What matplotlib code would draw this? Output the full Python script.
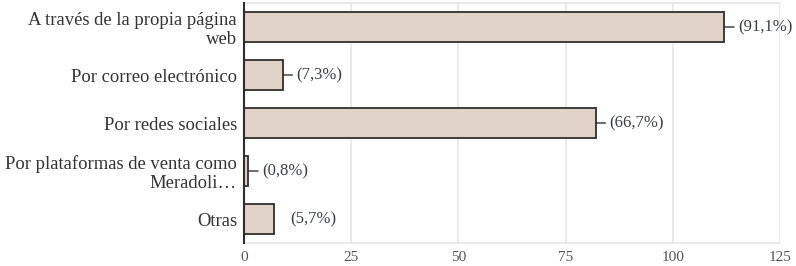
import matplotlib
matplotlib.use("Agg")
import matplotlib.pyplot as plt

categories = ["A través de la propia página\nweb", "Por correo electrónico", "Por redes sociales",
              "Por plataformas de venta como\nMeradoli…", "Otras"]
values = [112, 9, 82, 1, 7]
labels = ["(91,1%)", "(7,3%)", "(66,7%)", "(0,8%)", "(5,7%)"]
show_dash = [True, True, True, True, False]
xticks = [0, 25, 50, 75, 100, 125]

plt.rcParams['font.family'] = ['Liberation Serif', 'DejaVu Serif']

fig = plt.figure(figsize=(7.96, 2.66), dpi=100)
ax = fig.add_axes([244/796, 1-243/266, (780-244)/796, 240/266])

ypos = list(range(len(categories)))
ax.barh(ypos, values, height=0.64, color='#e2d3c8', edgecolor='#2e2e2e', linewidth=1.3, zorder=3)
ax.set_ylim(len(categories)-0.5, -0.5)
ax.set_xlim(0, 125)
ax.set_xticks(xticks)
ax.set_xticklabels([str(t) for t in xticks])
ax.set_yticks(ypos)
ax.set_yticklabels(categories, fontsize=13.4, color='#333333', linespacing=1.12)
ax.tick_params(axis='y', length=0, pad=5)
ax.tick_params(axis='x', length=0, pad=6, labelsize=11, labelcolor='#555555')
ax.grid(axis='x', color='#e6e6e6', linewidth=1.2, zorder=0)
ax.set_axisbelow(True)

for s in ['top', 'bottom']:
    ax.spines[s].set_color('#e6e6e6')
    ax.spines[s].set_linewidth(1.2)
ax.spines['right'].set_visible(False)
ax.spines['left'].set_color('#2e2e2e')
ax.spines['left'].set_linewidth(1.5)
ax.spines['left'].set_zorder(4)

for i, (v, lab, d) in enumerate(zip(values, labels, show_dash)):
    if d:
        ax.annotate(lab, xy=(v, i), xytext=(14, 0), textcoords='offset pixels',
                    ha='left', va='center', fontsize=12, color='#3a3f4a',
                    arrowprops=dict(arrowstyle='-', color='#333333', lw=1.0, shrinkA=1, shrinkB=0))
    else:
        ax.annotate(lab, xy=(v, i), xytext=(16, 0), textcoords='offset pixels',
                    ha='left', va='center', fontsize=12, color='#3a3f4a')

fig.savefig("out.png", dpi=100)
